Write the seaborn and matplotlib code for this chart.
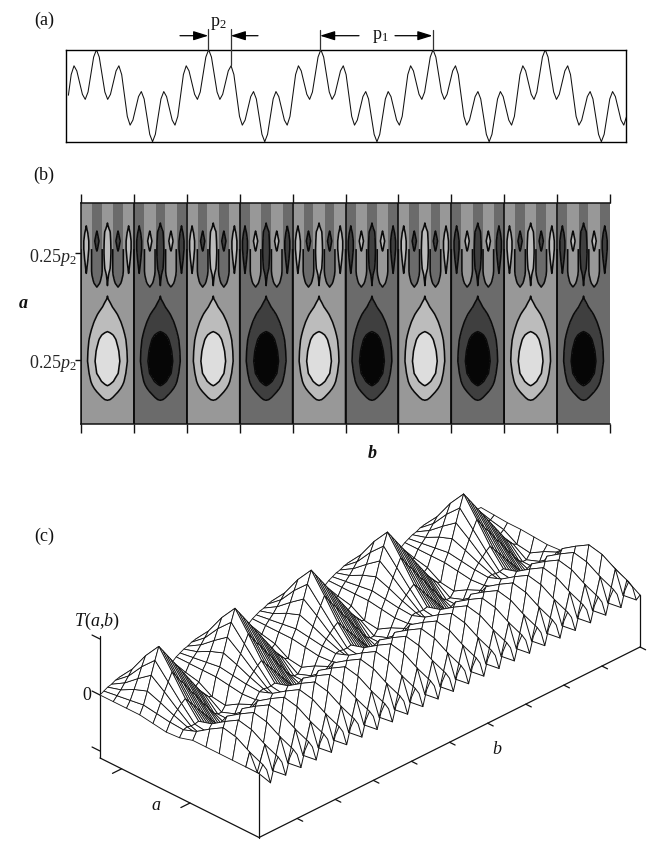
# plot.py: signal, contour map and wire surface of its transform.

import numpy as np
import seaborn as sns
import matplotlib
matplotlib.use('Agg')
import matplotlib.pyplot as plt
from mpl_toolkits.mplot3d import proj3d

FIG_W, FIG_H = 666, 853

# (a) one period p1 of the signal, read every 1/40 of a period, from the trace start
SIGNAL_PERIOD = [
    0.01, 0.46, 0.65, 0.54, 0.285, 0.03, -0.08, 0.08, 0.46, 0.84,
    1.00, 0.84, 0.46, 0.08, -0.08, 0.03, 0.285, 0.54, 0.65, 0.46,
    0.005, -0.45, -0.64, -0.53, -0.275, -0.02, 0.09, -0.07, -0.455, -0.84,
    -1.00, -0.84, -0.455, -0.07, 0.09, -0.02, -0.275, -0.53, -0.64, -0.45,
]
SIGNAL_PERIODS = 5

# (b) scale a, contour map rows (top to bottom)
A_ROWS = [0, 10, 18, 22, 26, 30, 38, 46, 50, 56, 62, 68, 72, 78, 84, 90, 96, 104, 111,
          120, 128, 132, 137, 148, 158, 170, 178, 182, 186, 192, 197, 205, 221]
# T(a,b) in contour levels, from the cell edge to the cell centre, for one half cell
CONTOUR_HALF_CELL = [
    [0, .45, .7, .45, 0, -.33, -.5, -.33, 0, .52, .8],
    [0, .48, .75, .48, 0, -.39, -.6, -.39, 0, .55, .85],
    [0, .58, .9, .58, 0, -.49, -.75, -.49, 0, .62, .95],
    [0, .64, .98, .64, 0, -.55, -.85, -.55, 0, .72, 1.05],
    [0, .72, 1.08, .72, 0, -.66, -.95, -.66, 0, .88, 1.2],
    [0, .85, 1.2, .85, 0, -.8, -1.05, -.8, 0, 1.08, 1.35],
    [0, .98, 1.35, .98, 0, -.95, -1.2, -.95, 0, 1.3, 1.6],
    [0, .98, 1.35, .98, 0, -.85, -1.05, -.85, 0, 1.45, 1.7],
    [0, .93, 1.3, .93, 0, -.7, -.95, -.7, 0, 1.45, 1.7],
    [0, .87, 1.22, .87, 0, -.55, -.8, -.55, 0, 1.3, 1.55],
    [0, .8, 1.12, .8, 0, -.4, -.62, -.4, 0, 1.12, 1.4],
    [0, .72, 1.04, .72, 0, -.3, -.45, -.3, 0, .92, 1.25],
    [0, .63, .97, .63, .03, -.18, -.32, -.18, .03, .78, 1.15],
    [0, .55, .85, .55, .08, -.04, -.15, -.04, .08, .62, 1.06],
    [0, .45, .7, .45, .12, .06, 0, .06, .12, .5, .98],
    [0, .35, .6, .35, .2, .13, .1, .13, .2, .5, .97],
    [0, .1, .2, .3, .4, .5, .6, .7, .8, .93, 1.03],
    [0, .12, .25, .37, .49, .62, .74, .86, .99, 1.1, 1.2],
    [0, .16, .32, .48, .64, .8, .96, 1.1, 1.24, 1.37, 1.5],
    [0, .21, .42, .64, .85, 1.05, 1.2, 1.34, 1.49, 1.62, 1.75],
    [0, .27, .54, .81, 1.05, 1.25, 1.45, 1.62, 1.78, 1.9, 1.97],
    [0, .3, .6, .9, 1.15, 1.4, 1.65, 1.87, 2.03, 2.15, 2.25],
    [0, .33, .66, 1.0, 1.27, 1.55, 1.83, 2.06, 2.2, 2.35, 2.5],
    [0, .39, .78, 1.14, 1.48, 1.81, 2.08, 2.26, 2.44, 2.62, 2.8],
    [0, .41, .82, 1.2, 1.56, 1.92, 2.17, 2.37, 2.58, 2.79, 3.0],
    [0, .32, .65, .98, 1.33, 1.69, 2.02, 2.17, 2.31, 2.46, 2.6],
    [0, .27, .54, .81, 1.08, 1.35, 1.61, 1.88, 2.05, 2.15, 2.2],
    [0, .23, .46, .7, .93, 1.16, 1.38, 1.58, 1.78, 1.95, 2.03],
    [0, .19, .38, .58, .77, .96, 1.13, 1.3, 1.5, 1.68, 1.75],
    [0, .14, .28, .41, .55, .69, .83, .97, 1.12, 1.25, 1.3],
    [0, .1, .2, .3, .4, .5, .6, .72, .85, .96, 1.0],
    [0, .08, .15, .23, .3, .38, .45, .53, .6, .68, .75],
    [0, .05, .11, .16, .22, .27, .33, .38, .44, .49, .55],
]
CONTOUR_CELLS = 10
CONTOUR_LEVELS = [-4, -2, -1, 0, 1, 2, 4]
CONTOUR_GREYS = ['#060606', '#3f3f3f', '#6b6b6b', '#989898', '#bcbcbc', '#dddddd']
A_TICKS = [50.3, 156.7]
A_TICK_LABELS = ['0.25$p_2$', '0.25$p_2$']

# (c) surface heights for one period, rows back to front, twenty columns
SURFACE_PERIOD = [
    [0, 2, 4, 5, 7, 8, 7, 6, 5, 4, 3, 2, 1, 0, -1, -2, -3, -3, -3, -3],
    [0, 4, 8, 13, 18, 23, 19, 15, 11, 7, 3, -1, -4, -6, -8, -9, -9, -9, -8, -7],
    [0, 6, 15, 24, 34, 43, 38, 33, 28, 23, 18, 13, 8, 3, -2, -7, -10, -12, -13, -10],
    [0, 8, 20, 34, 47, 59, 53, 47, 41, 35, 29, 23, 17, 11, 5, -1, -7, -12, -16, -18],
    [-2, 6, 15, 24, 32, 40, 34, 28, 23, 17, 11, 6, 0, -6, -11, -17, -22, -25, -25, -20],
    [-4, 4, 9, 13, 17, 20, 15, 10, 5, 0, -5, -10, -15, -20, -24, -27, -28, -25, -20, -12],
    [-3, 3, 4, 3, 3, 4, 0, -4, -8, -12, -16, -20, -22, -23, -22, -20, -17, -14, -10, -6],
    [1, 8, 1, -5, 1, 8, 1, -5, 1, 8, 1, -5, 1, 8, 1, -5, 1, 8, 1, -5],
    [1, 17, 1, -15, 1, 17, 1, -15, 1, 17, 1, -15, 1, 17, 1, -15, 1, 17, 1, -15],
    [1, 25, 1, -23, 1, 25, 1, -23, 1, 25, 1, -23, 1, 25, 1, -23, 1, 25, 1, -23],
    [1, 22, 1, -22, 1, 22, 1, -22, 1, 22, 1, -22, 1, 22, 1, -22, 1, 22, 1, -22],
    [1, 14, 1, -16, 1, 14, 1, -16, 1, 14, 1, -16, 1, 14, 1, -16, 1, 14, 1, -16],
    [1, 8, 1, -14, 1, 8, 1, -14, 1, 8, 1, -14, 1, 8, 1, -14, 1, 8, 1, -14],
]
SURFACE_RIGHT_RIM = [-3, -4, -5, -5, -6, -7, -6, 0, 8, 10, 4, -3, -11]
# the first dip next to the left rim is shallower than the others (rows 7 to 11)
SURFACE_FIRST_DIP = [-2, -4, -6, -8, -10]
SURFACE_PERIODS = 5
A_TICKS_3D = [0.136, 0.566]
B_TICKS_3D = [0.5, 1.0, 1.5, 2.0, 2.5, 3.0, 3.5, 4.0, 4.5, 5.0]
Z_TICKS_3D = [-56, 0, 56]

sns.set_style('white')
plt.rcParams['font.family'] = ['Liberation Serif', 'DejaVu Serif']
plt.rcParams['mathtext.fontset'] = 'custom'
plt.rcParams['mathtext.rm'] = 'Liberation Serif'
plt.rcParams['mathtext.it'] = 'Liberation Serif:italic'
plt.rcParams['mathtext.bf'] = 'Liberation Serif:bold'


def add_axes_px(fig, left, top, right, bottom, **kwargs):
    # Axes from picture pixels, y counted from the top.
    return fig.add_axes([left / FIG_W, 1 - bottom / FIG_H,
                         (right - left) / FIG_W, (bottom - top) / FIG_H], **kwargs)


def draw_signal(fig):
    ax = add_axes_px(fig, 65.7, 50.7, 625.7, 142.7)
    samples = np.tile(SIGNAL_PERIOD, SIGNAL_PERIODS)[:200]
    position = np.arange(len(samples)) / len(SIGNAL_PERIOD)
    sns.lineplot(x=position, y=samples, color='#111111', linewidth=0.75, errorbar=None, ax=ax)
    ax.set_xlim(-0.024, 4.967)
    ax.set_ylim(-1, 1)
    ax.set_xticks([])
    ax.set_yticks([])
    ax.set_xlabel('')
    ax.set_ylabel('')
    for spine in ax.spines.values():
        spine.set_color('black')
        spine.set_linewidth(1.0)


def draw_contours(fig):
    ax = add_axes_px(fig, 81, 204, 610, 425.3)
    half = np.array(CONTOUR_HALF_CELL)
    cell = np.hstack([half, half[:, -2::-1]])
    rows = [np.hstack([cell[:, :-1] * (-1) ** k for k in range(CONTOUR_CELLS)]),
            cell[:, -1:] * 0]
    values = np.hstack(rows)
    b = np.arange(values.shape[1]) / (cell.shape[1] - 1)
    a = np.array(A_ROWS)
    ax.contourf(b, a, values, levels=CONTOUR_LEVELS, colors=CONTOUR_GREYS)
    ax.contour(b, a, values, levels=[-2, -1, 1, 2], colors='#0a0a0a', linewidths=1.15,
               linestyles='solid')
    # the zero line only shows below the top of the stripes, apart from the cell edges
    lower = a >= 46
    ax.contour(b, a[lower], values[lower], levels=[0], colors='#0a0a0a', linewidths=1.15,
               linestyles='solid')
    for edge in range(1, CONTOUR_CELLS):
        ax.axvline(edge, color='#0a0a0a', linewidth=1.15)
    ax.set_xlim(0, CONTOUR_CELLS)
    ax.set_ylim(A_ROWS[-1], 0)
    ax.set_xticks(range(CONTOUR_CELLS + 1))
    ax.set_xticklabels([])
    ax.set_yticks(A_TICKS)
    ax.set_yticklabels(A_TICK_LABELS, fontsize=13)
    ax.tick_params(axis='x', top=True, bottom=True, direction='out', length=6.2, width=1.0, color='#111111')
    ax.tick_params(axis='y', left=True, direction='inout', length=8, width=1.0, pad=-1, color='#111111')
    ax.spines['right'].set_visible(False)
    for name in ['left', 'top', 'bottom']:
        ax.spines[name].set_color('#111111')
        ax.spines[name].set_linewidth(1.1)


def draw_surface(fig):
    ax = fig.add_axes([0, 0, 1, FIG_W / FIG_H], projection='3d', proj_type='ortho',
                      computed_zorder=False)
    ax.patch.set_visible(False)
    period = np.array(SURFACE_PERIOD, dtype=float)
    rim = np.array(SURFACE_RIGHT_RIM, dtype=float).reshape(-1, 1)
    z = np.hstack([np.tile(period, (1, SURFACE_PERIODS)), rim])
    z[7:12, 3] = SURFACE_FIRST_DIP
    b = np.arange(z.shape[1]) / period.shape[1]
    a = np.arange(z.shape[0]) / (z.shape[0] - 1)
    bb, aa = np.meshgrid(b, a)

    z_floor, z_top = -63, 65
    ax.set_xlim(0, 1)
    ax.set_ylim(0, SURFACE_PERIODS)
    ax.set_zlim(z_floor, z_top)
    ax.set_box_aspect((225, 539, (z_top - z_floor) / 0.866))
    ax.view_init(elev=30, azim=-45)
    ax.set_axis_off()

    mesh = dict(rstride=1, cstride=1, color='white', edgecolor='#111111', linewidth=0.6, shade=False)
    # back rows keep every column, the rippled front rows show every second one
    ax.plot_surface(aa[:8], bb[:8], z[:8], zorder=3, **mesh)
    odd = np.r_[0, 1:z.shape[1] - 1:2, z.shape[1] - 1]
    ax.plot_surface(aa[7:12][:, odd], bb[7:12][:, odd], z[7:12][:, odd], zorder=4, **mesh)
    # last row: full outline of the dips, lines on top
    ax.plot_surface(aa[11:], bb[11:], z[11:], rstride=1, cstride=1, color='white', edgecolor='none',
                    linewidth=0, shade=False, zorder=5)
    wire = dict(color='#111111', linewidth=0.7, zorder=6)
    ax.plot(aa[-1], bb[-1], z[-1], **wire)
    ax.plot(aa[-2][odd], bb[-2][odd], z[-2][odd], **wire)
    for col in odd:
        ax.plot(aa[-2:, col], bb[-2:, col], z[-2:, col], **wire)

    line = dict(color='#111111', linewidth=0.9, zorder=2)
    ax.plot([0, 1, 1], [0, 0, SURFACE_PERIODS], [z_floor] * 3, **line)
    ax.plot([0, 0], [0, 0], [z_floor, 59], **line)
    ax.plot([1, 1], [0, 0], [z_floor, z[-1, 0]], **line)
    ax.plot([1, 1], [SURFACE_PERIODS, SURFACE_PERIODS], [z_floor, z[-1, -1]], **line)
    for tick in A_TICKS_3D:
        ax.plot([tick, tick], [0, -0.12], [z_floor, z_floor], **line)
    for tick in B_TICKS_3D:
        ax.plot([1, 1.035], [tick, tick], [z_floor, z_floor], **line)
    for tick in Z_TICKS_3D:
        ax.plot([0, -0.05], [0, 0], [tick, tick], **line)

    # Scale and shift the square axes so the corners land where they do in the picture.
    fig.canvas.draw()
    corner_x, corner_y, _ = proj3d.proj_transform([0, 0], [0, SURFACE_PERIODS], [0, 0], ax.get_proj())
    display = ax.transData.transform(np.column_stack([corner_x, corner_y]))
    scale = (481 - 100) / (display[1, 0] - display[0, 0])
    size = FIG_W * scale
    left = 100 - display[0, 0] * scale
    bottom = (FIG_H - 696) - display[0, 1] * scale
    ax.set_position([left / FIG_W, bottom / FIG_H, size / FIG_W, size / FIG_H])


def draw_labels(fig):
    over = fig.add_axes([0, 0, 1, 1], zorder=10)
    over.set_xlim(0, FIG_W)
    over.set_ylim(FIG_H, 0)
    over.axis('off')
    over.patch.set_alpha(0)

    def label(x, y, text, **kwargs):
        over.text(x, y, text, fontsize=13, ha='center', va='center', color='#111111', **kwargs)

    label(44, 20, '(a)')
    label(44, 175, '(b)')
    label(44, 536, '(c)')
    label(218, 23, 'p$_2$')
    label(380, 36, 'p$_1$')
    label(23, 303, 'a', style='italic', weight='bold')
    label(372, 453, 'b', style='italic', weight='bold')
    label(97, 621, '$T$($a$,$b$)')
    label(87, 696, '0')
    label(156, 806, 'a', style='italic')
    label(497, 749, 'b', style='italic')

    # period markers above the signal
    for x, top, bottom in [(208.3, 30, 51), (230.7, 30, 66), (320, 31, 51), (432.5, 31, 51)]:
        over.plot([x, x], [top, bottom], color='#333333', linewidth=0.9)
    arrow = dict(arrowstyle='-|>,head_width=0.28,head_length=0.9', color='black', linewidth=0.9,
                 shrinkA=0, shrinkB=0)
    for start, tip in [(180, 208.3), (258, 230.7), (359, 320), (395, 432.5)]:
        over.annotate('', xy=(tip, 36.7), xytext=(start, 36.7), arrowprops=arrow)


fig = plt.figure(figsize=(FIG_W / 100, FIG_H / 100), dpi=100)
draw_signal(fig)
draw_contours(fig)
draw_surface(fig)
draw_labels(fig)
fig.savefig('out.png', dpi=100)
